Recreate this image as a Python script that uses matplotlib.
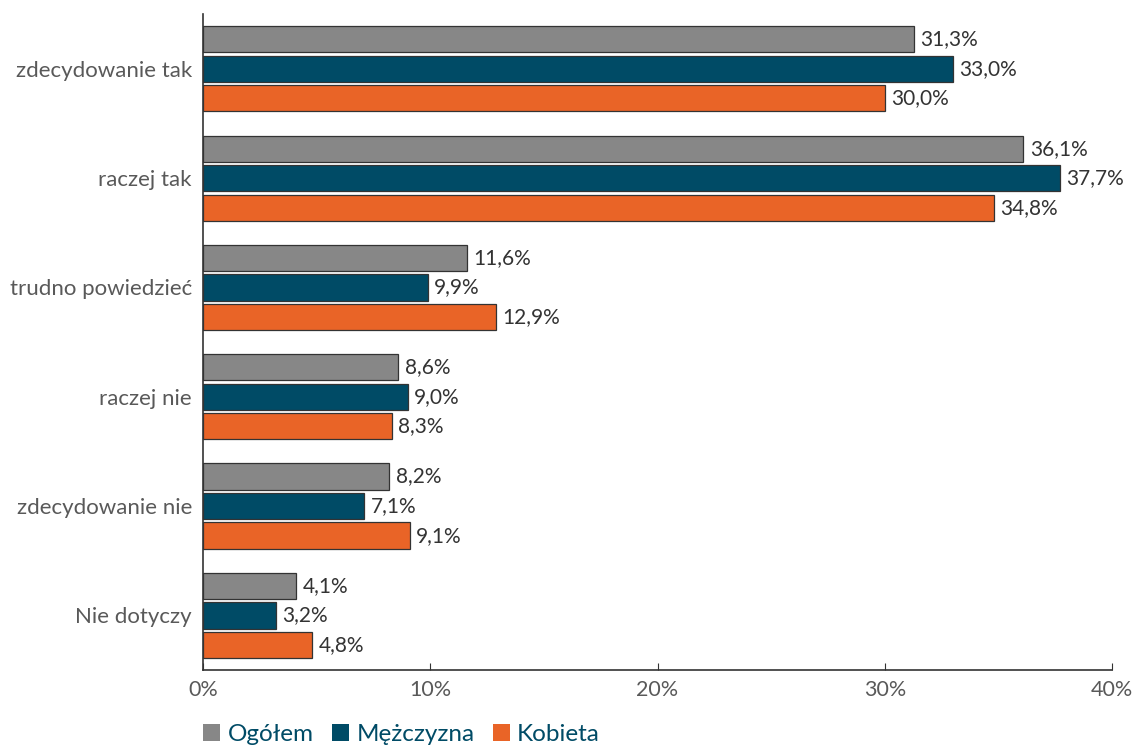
import matplotlib
matplotlib.use("Agg")
import matplotlib.pyplot as plt
import numpy as np
from matplotlib.patches import Patch

categories = ["zdecydowanie tak", "raczej tak", "trudno powiedzieć", "raczej nie", "zdecydowanie nie", "Nie dotyczy"]
series_names = ["Ogółem", "Mężczyzna", "Kobieta"]
ogolem = [31.3, 36.1, 11.6, 8.6, 8.2, 4.1]
mezczyzna = [33.0, 37.7, 9.9, 9.0, 7.1, 3.2]
kobieta = [30.0, 34.8, 12.9, 8.3, 9.1, 4.8]
xticks = [0, 10, 20, 30, 40]

colors = ["#878787", "#004B66", "#E96427"]
plt.rcParams['font.family'] = ['Lato', 'DejaVu Sans']

fig = plt.figure(figsize=(11.42, 7.47), dpi=100)
ax = fig.add_axes([0.1778, 0.103, 0.7959, 0.878])

y = np.arange(len(categories))
h = 0.24
step = 0.27
for i, (vals, c) in enumerate(zip([ogolem, mezczyzna, kobieta], colors)):
    pos = y + (i - 1) * step
    ax.barh(pos, vals, height=h, color=c, edgecolor="#333333", linewidth=0.9)
    for p, v in zip(pos, vals):
        ax.text(v + 0.28, p, f"{v:.1f}%".replace(".", ","), va="center", ha="left",
                fontsize=15, color="#333333")

ax.set_ylim(len(categories) - 0.5, -0.5)
ax.set_xlim(0, 40)
ax.set_yticks(y)
ax.set_yticklabels(categories, fontsize=16, color="#595959")
ax.set_xticks(xticks)
ax.set_xticklabels([f"{t}%" for t in xticks], fontsize=15.5, color="#595959")
ax.tick_params(axis="y", length=0, pad=8)
ax.tick_params(axis="x", direction="in", length=5, color="#333333", pad=7)
for s in ["top", "right"]:
    ax.spines[s].set_visible(False)
for s in ["left", "bottom"]:
    ax.spines[s].set_color("#333333")
    ax.spines[s].set_linewidth(1.2)

handles = [Patch(facecolor=c, edgecolor="none") for c in colors]
leg = fig.legend(handles, series_names, loc="lower left", bbox_to_anchor=(0.159, -0.026),
                 ncol=3, frameon=False, fontsize=17.5, handlelength=0.7, handleheight=0.7,
                 handletextpad=0.3, columnspacing=0.75)
for t in leg.get_texts():
    t.set_color("#004B66")

fig.savefig("out.png", dpi=100)
